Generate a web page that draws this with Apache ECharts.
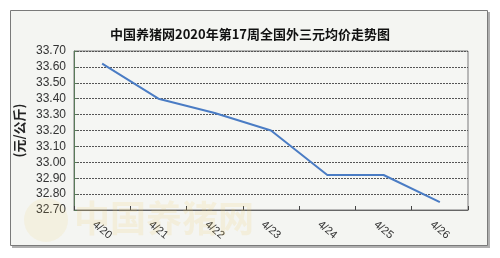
<!DOCTYPE html>
<html><head><meta charset="utf-8">
<script src="https://cdn.jsdelivr.net/npm/echarts@6/dist/echarts.min.js"></script>
<style>html,body{margin:0;padding:0;background:#fff}#c{width:500px;height:258px}</style>
</head><body><div id="c"></div>
<script>
const titleText = '中国养猪网2020年第17周全国外三元均价走势图';
const categories = ['4/20','4/21','4/22','4/23','4/24','4/25','4/26'];
const prices = [33.62, 33.40, 33.31, 33.20, 32.92, 32.92, 32.75];
const yName = '(元/公斤)';
const watermark = '中国养猪网';

const chart = echarts.init(document.getElementById('c'));
chart.setOption({
  animation: false,
  backgroundColor: '#ffffff',
  graphic: [
    { type: 'rect', z: -10, shape: { x: 12, y: 12, width: 478, height: 236 }, style: { fill: '#b0b0b0' } },
    { type: 'rect', z: -9, shape: { x: 10.5, y: 10.5, width: 477, height: 235 }, style: { fill: '#f4f5f2', stroke: '#7a7a7a', lineWidth: 1 } },
    { type: 'text', z: 100, left: 74, top: 200, style: { text: watermark, font: 'bold 36px "Noto Sans CJK SC"', fill: 'rgba(240,205,100,0.16)' } },
    { type: 'circle', z: 100, shape: { cx: 46, cy: 220, r: 22 }, style: { fill: 'rgba(240,205,100,0.12)' } }
  ],
  title: {
    text: titleText, left: 'center', top: 23,
    textStyle: { fontFamily: '"Noto Sans CJK SC"', fontSize: 13, fontWeight: 'bold', color: '#111' }
  },
  grid: { left: 74, right: 32, top: 51, bottom: 48, show: true, backgroundColor: '#f5f6f3', borderColor: '#7a7a7a', borderWidth: 1 },
  xAxis: {
    type: 'category', data: categories, boundaryGap: true,
    axisLine: { lineStyle: { color: '#666', width: 1 } },
    axisTick: { show: true, inside: true, length: 4, alignWithLabel: false, lineStyle: { color: '#444' } },
    axisLabel: { rotate: -40, align: 'center', verticalAlign: 'middle', margin: 20, fontSize: 11, fontFamily: '"Liberation Sans"', color: '#333' }
  },
  yAxis: {
    type: 'value', min: 32.7, max: 33.7, interval: 0.1,
    name: yName, nameLocation: 'middle', nameGap: 42, nameRotate: 90,
    nameTextStyle: { fontFamily: '"Noto Sans CJK SC"', fontSize: 13, fontWeight: 'bold', color: '#222' },
    axisLine: { show: true, lineStyle: { color: '#5a7a5a', width: 1 } },
    axisTick: { show: true, inside: true, length: 3, lineStyle: { color: '#5a7a5a' } },
    axisLabel: { formatter: v => v.toFixed(2), fontSize: 12, fontFamily: '"Liberation Sans"', color: '#333', margin: 8 },
    splitLine: { show: true, lineStyle: { type: [2, 1], color: '#555', width: 1 } }
  },
  series: [{
    type: 'line', data: prices, symbol: 'none',
    lineStyle: { color: '#4a7cc4', width: 2 }
  }]
});
</script></body></html>
